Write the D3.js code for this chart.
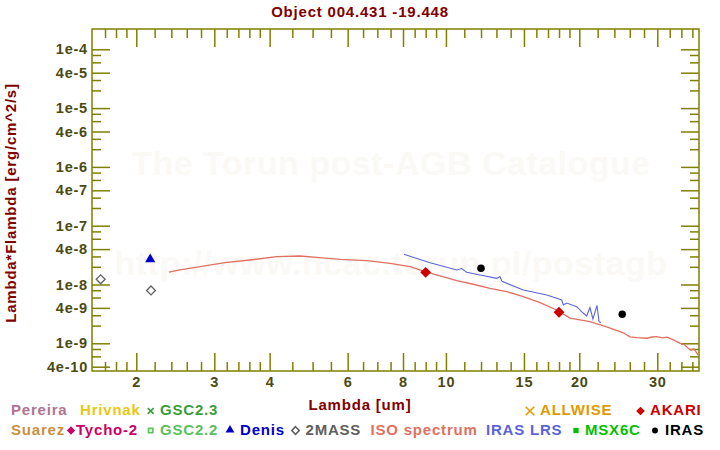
<!DOCTYPE html>
<html>
<head>
<meta charset="utf-8">
<script src="https://cdn.jsdelivr.net/npm/d3@7"></script>
<style>
  body { margin: 0; background: #fff; }
  svg text { font-family: "Liberation Sans", Arial, sans-serif; font-weight: bold; }
</style>
</head>
<body>
<div id="chart"></div>
<script>
// photometry / spectra (wavelength in um, lambda*F_lambda in erg/cm^2/s)
const isoWave = [2.37, 2.51, 2.79, 3.17, 3.61, 4.15, 4.68, 5.11, 5.77, 6.63, 7.48, 8.30, 8.97, 9.70, 10.58,
  11.53, 12.57, 13.72, 14.95, 16.31, 17.78, 19.06, 21.14, 23.06, 25.14, 26.02, 27.0, 28.4, 29.2, 29.9,
  30.8, 31.6, 32.6, 33.8, 34.5, 35.6, 36.3, 37.1];
const isoFlux = [1.63e-8, 1.77e-8, 2.01e-8, 2.35e-8, 2.61e-8, 2.97e-8, 3.05e-8, 2.90e-8, 2.68e-8, 2.54e-8,
  2.28e-8, 2.01e-8, 1.66e-8, 1.40e-8, 1.16e-8, 1.01e-8, 8.6e-9, 7.55e-9, 6.2e-9, 4.9e-9, 3.68e-9, 2.69e-9,
  2.33e-9, 1.91e-9, 1.51e-9, 1.29e-9, 1.25e-9, 1.22e-9, 1.28e-9, 1.30e-9, 1.24e-9, 1.27e-9, 1.14e-9,
  1.0e-9, 9.5e-10, 7.7e-10, 8.0e-10, 6.3e-10];

const lrsWave = [8.04, 9.21, 10.58, 10.85, 11.14, 11.94, 13.02, 13.24, 13.38, 14.95, 16.89, 17.78, 18.25,
  18.41, 18.73, 19.73, 20.25, 20.78, 21.14, 21.47, 21.93, 22.16, 22.38];
const lrsFlux = [3.26e-8, 2.35e-8, 1.77e-8, 1.87e-8, 1.61e-8, 1.45e-8, 1.27e-8, 1.37e-8, 1.13e-8, 8.05e-9,
  6.63e-9, 5.82e-9, 5.45e-9, 4.48e-9, 4.84e-9, 4.19e-9, 3.45e-9, 2.91e-9, 4.06e-9, 2.59e-9, 4.40e-9,
  2.35e-9, 2.24e-9];

const twomassWave = [1.662, 2.159];
const twomassFlux = [1.225e-8, 7.93e-9];
const denisWave = [2.15];
const denisFlux = [2.68e-8];
const akariWave = [9.0, 18.0];
const akariFlux = [1.61e-8, 3.37e-9];
const irasWave = [12.0, 25.0];
const irasFlux = [1.89e-8, 3.11e-9];

const xMajor = [2, 3, 4, 6, 8, 10, 15, 20, 30];
const xMinor = [1.7, 1.8, 1.9, 2.2, 2.4, 2.6, 2.8, 3.2, 3.4, 3.6, 3.8, 4.5, 5, 5.5, 6.5, 7, 7.5,
  8.5, 9, 9.5, 11, 12, 13, 14, 16, 17, 18, 19, 22, 24, 26, 28, 32, 34, 36];
const yMajor = [1e-4, 4e-5, 1e-5, 4e-6, 1e-6, 4e-7, 1e-7, 4e-8, 1e-8, 4e-9, 1e-9, 4e-10];
const yMinor = [8e-5, 6e-5, 3e-5, 2e-5, 8e-6, 6e-6, 3e-6, 2e-6, 8e-7, 6e-7, 3e-7, 2e-7,
  8e-8, 6e-8, 3e-8, 2e-8, 8e-9, 6e-9, 3e-9, 2e-9, 8e-10, 6e-10];

const legendRow1 = ["Pereira", "Hrivnak", "GSC2.3", "ALLWISE", "AKARI"];
const legendRow2 = ["Suarez", "Tycho-2", "GSC2.2", "Denis", "2MASS", "ISO spectrum", "IRAS LRS", "MSX6C", "IRAS"];

const W = 720, H = 450;
const pLeft = 92, pRight = 699, pTop = 29, pBottom = 371;
const olive = "#808000", tickText = "#4a4a12", titleCol = "#800000";

const svg = d3.select("#chart").append("svg")
  .attr("width", W).attr("height", H)
  .style("letter-spacing", "0.8px");

const x = d3.scaleLog().domain([1.5887, 37.26]).range([pLeft, pRight]);
const y = d3.scaleLog().domain([3.38e-10, 2.214e-4]).range([pBottom, pTop]);

// faint watermarks
svg.append("text").attr("x", 391).attr("y", 175).attr("text-anchor", "middle")
  .style("font-size", "34px").style("letter-spacing", "0.5px").attr("fill", "#fbf9f6")
  .text("The Torun post-AGB Catalogue");
svg.append("text").attr("x", 391).attr("y", 275).attr("text-anchor", "middle")
  .style("font-size", "34px").style("letter-spacing", "0.5px").attr("fill", "#fbf9f6")
  .text("http://www.ncac.torun.pl/postagb");

const fmtY = d => {
  const e = Math.floor(Math.log10(d) + 1e-9);
  return Math.round(d / Math.pow(10, e)) + "e" + e;
};

function styleAxis(g) {
  g.select(".domain").remove();
  g.selectAll("line").attr("stroke", olive).attr("stroke-width", 1.5);
  g.selectAll("text").attr("fill", tickText).style("font-size", "14.5px");
}

// major + minor ticks on all four sides, pointing inwards
svg.append("g").attr("transform", `translate(0,${pBottom})`)
  .call(d3.axisBottom(x).tickValues(xMajor).tickSize(-18).tickPadding(6).tickFormat(d3.format("d")))
  .call(styleAxis);
svg.append("g").attr("transform", `translate(0,${pBottom})`)
  .call(d3.axisBottom(x).tickValues(xMinor).tickSize(-9).tickFormat(""))
  .call(styleAxis);
svg.append("g").attr("transform", `translate(0,${pTop})`)
  .call(d3.axisTop(x).tickValues(xMajor).tickSize(-18).tickFormat(""))
  .call(styleAxis);
svg.append("g").attr("transform", `translate(0,${pTop})`)
  .call(d3.axisTop(x).tickValues(xMinor).tickSize(-9).tickFormat(""))
  .call(styleAxis);
svg.append("g").attr("transform", `translate(${pLeft},0)`)
  .call(d3.axisLeft(y).tickValues(yMajor).tickSize(-18).tickPadding(4).tickFormat(fmtY))
  .call(styleAxis);
svg.append("g").attr("transform", `translate(${pLeft},0)`)
  .call(d3.axisLeft(y).tickValues(yMinor).tickSize(-9).tickFormat(""))
  .call(styleAxis);
svg.append("g").attr("transform", `translate(${pRight},0)`)
  .call(d3.axisRight(y).tickValues(yMajor).tickSize(-18).tickFormat(""))
  .call(styleAxis);
svg.append("g").attr("transform", `translate(${pRight},0)`)
  .call(d3.axisRight(y).tickValues(yMinor).tickSize(-9).tickFormat(""))
  .call(styleAxis);

svg.append("rect").attr("x", pLeft).attr("y", pTop)
  .attr("width", pRight - pLeft).attr("height", pBottom - pTop)
  .attr("fill", "none").attr("stroke", olive).attr("stroke-width", 1.5);

// titles
svg.append("text").attr("x", 360).attr("y", 17).attr("text-anchor", "middle")
  .attr("fill", titleCol).style("font-size", "15px").text("Object 004.431 -19.448");
svg.append("text").attr("x", 360).attr("y", 410).attr("text-anchor", "middle")
  .attr("fill", titleCol).style("font-size", "15px").text("Lambda [um]");
svg.append("text").attr("transform", "translate(16,203) rotate(-90)").attr("text-anchor", "middle")
  .attr("fill", titleCol).style("font-size", "15px").text("Lambda*Flambda [erg/cm^2/s]");

// data
svg.append("clipPath").attr("id", "clip").append("rect")
  .attr("x", pLeft).attr("y", pTop).attr("width", pRight - pLeft).attr("height", pBottom - pTop);
const plot = svg.append("g").attr("clip-path", "url(#clip)");

const line = d3.line().x(d => x(d[0])).y(d => y(d[1]));
plot.append("path").datum(d3.zip(isoWave, isoFlux))
  .attr("d", line).attr("fill", "none").attr("stroke", "#e07060").attr("stroke-width", 1.3);
plot.append("path").datum(d3.zip(lrsWave, lrsFlux))
  .attr("d", line).attr("fill", "none").attr("stroke", "#5a64d8").attr("stroke-width", 1.1);

function markers(wave, flux, type, size, fill, stroke) {
  plot.selectAll(null).data(d3.zip(wave, flux)).enter().append("path")
    .attr("transform", d => `translate(${x(d[0])},${y(d[1])})`)
    .attr("d", d3.symbol().type(type).size(size))
    .attr("fill", fill).attr("stroke", stroke || "none").attr("stroke-width", 1.3);
}
markers(twomassWave, twomassFlux, d3.symbolDiamond2, 50, "none", "#606060");
markers(denisWave, denisFlux, d3.symbolTriangle, 45, "#0000cc");
markers(akariWave, akariFlux, d3.symbolDiamond2, 75, "#cc0000");
markers(irasWave, irasFlux, d3.symbolCircle, 45, "#000000");

// legend
const legendCols = {
  "Pereira": "#b07490", "Hrivnak": "#e8c814", "GSC2.3": "#3c9c3c", "ALLWISE": "#e09a00", "AKARI": "#cc0000",
  "Suarez": "#c89040", "Tycho-2": "#cc0066", "GSC2.2": "#5cc05c", "Denis": "#0000cc", "2MASS": "#606060",
  "ISO spectrum": "#e07060", "IRAS LRS": "#5a64d8", "MSX6C": "#00c000", "IRAS": "#000000"
};
const row1X = [11, 80, 160, 540, 650];
const row2X = [11, 76, 160, 240, 305.5, 370.5, 486, 585, 665];
const legendMarks = {
  "GSC2.3": [150.7, 411, d3.symbolX, 24, false],
  "ALLWISE": [530, 411, d3.symbolX, 50, false],
  "AKARI": [640.5, 411, d3.symbolDiamond2, 48, true],
  "Tycho-2": [71, 430.5, d3.symbolDiamond2, 44, true],
  "GSC2.2": [150.7, 430.5, d3.symbolSquare2, 24, false],
  "Denis": [230, 430, d3.symbolTriangle, 34, true],
  "2MASS": [295.5, 430.5, d3.symbolDiamond2, 36, false],
  "MSX6C": [576, 430.5, d3.symbolSquare, 28, true],
  "IRAS": [655, 430.5, d3.symbolCircle, 28, true]
};

const leg = svg.append("g");
[[legendRow1, row1X, 415], [legendRow2, row2X, 435]].forEach(([names, xs, base]) => {
  names.forEach((n, i) => {
    leg.append("text").attr("x", xs[i]).attr("y", base)
      .attr("fill", legendCols[n]).style("font-size", "15px").text(n);
    const m = legendMarks[n];
    if (m) {
      leg.append("path").attr("transform", `translate(${m[0]},${m[1]})`)
        .attr("d", d3.symbol().type(m[2]).size(m[3]))
        .attr("fill", m[4] ? legendCols[n] : "none")
        .attr("stroke", m[4] ? "none" : legendCols[n]).attr("stroke-width", 1.6);
    }
  });
});
</script>
</body>
</html>
